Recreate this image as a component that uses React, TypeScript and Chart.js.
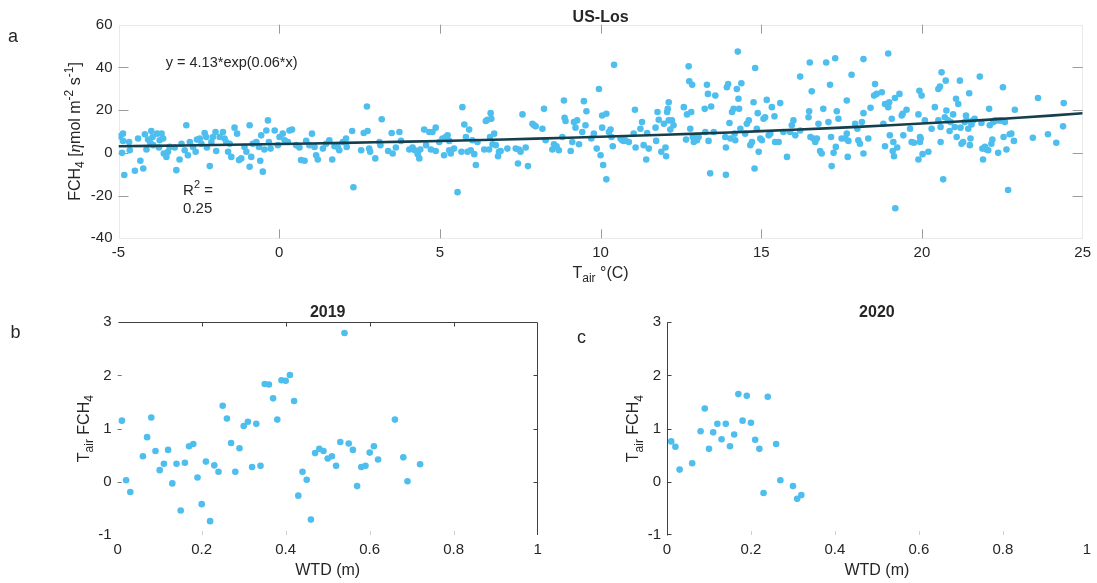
import React, { useEffect, useRef } from "react";
import { Chart, registerables } from "chart.js";

Chart.register(...registerables);

const SANS = "'Liberation Sans', Arial, Helvetica, sans-serif";
const SERIF = "'Liberation Serif', 'DejaVu Serif', serif";
const INK = "#262626";
const DOT = "#4dbeee";
const FIT = "#163f4e";

// Panel a: half-hourly air temperature (°C) paired with methane flux (nmol m-2 s-1)
const airTempFlux: [number, number][] = [
  [-4.86, 9.0], [-4.96, 7.8], [-4.86, 5.6], [-4.67, 5.1], [-4.89, 0.0], [-4.82, -10.4], [-4.49, -8.4],
  [-4.23, -7.3], [-4.32, -3.7], [-4.65, 1.2], [-4.39, 6.7], [-4.18, 8.7], [-4.08, 6.2], [-3.98, 10.2],
  [-3.94, 7.4], [-4.01, 4.7], [-4.13, 1.6], [-3.92, 3.6], [-3.8, 9.0], [-3.66, 9.0], [-3.72, 5.9],
  [-3.61, 6.7], [-3.74, 2.5], [-3.59, -0.3], [-3.46, 0.5], [-3.51, -1.9], [-3.41, 2.8], [-3.2, -8.1],
  [-3.1, -3.1], [-3.25, 2.5], [-3.04, 4.3], [-2.89, 12.9], [-2.94, 1.2], [-2.84, -1.1], [-2.78, 5.1],
  [-2.68, 2.8], [-2.56, 6.2], [-2.47, 6.7], [-2.6, 0.5], [-2.42, 4.3], [-2.32, 9.3], [-2.27, 7.4],
  [-2.25, 2.5], [-2.16, -6.2], [-2.11, 5.1], [-2.06, 7.4], [-1.98, 9.8], [-1.96, 0.9], [-1.85, 7.4],
  [-1.75, 9.8], [-1.7, 6.7], [-1.65, 5.1], [-1.59, 0.5], [-1.54, 4.3], [-1.49, -1.9], [-1.39, 11.8],
  [-1.31, 9.0], [-1.25, -3.4], [-1.18, -2.6], [-1.08, 2.8], [-1.02, 0.5], [-0.92, 12.9], [-0.92, -6.5],
  [-0.87, -1.9], [-0.82, 4.3], [-0.71, 5.1], [-0.63, 2.8], [-0.59, -3.7], [-0.56, 8.2], [-0.51, -8.8],
  [-0.46, 1.6], [-0.4, 10.5], [-0.35, 15.2], [-0.32, 5.1], [-0.27, 2.0], [-0.14, 10.5], [-0.04, 3.6],
  [0.01, 7.4], [0.11, 9.0], [0.17, 5.9], [0.27, 5.1], [0.32, 10.5], [0.4, 10.9], [0.53, 3.6],
  [0.63, 2.5], [0.68, -3.4], [0.79, -3.7], [0.84, 5.6], [0.94, 3.6], [1.02, 9.0], [1.1, 2.8],
  [1.15, -1.1], [1.2, -3.1], [1.36, 2.0], [1.46, 4.3], [1.56, 5.9], [1.65, -3.1], [1.72, 3.1],
  [1.82, 2.8], [1.87, 1.2], [1.98, 5.1], [2.08, 6.7], [2.1, 2.8], [2.27, 10.2], [2.31, -16.1],
  [2.55, 1.2], [2.63, 9.3], [2.73, 21.7], [2.75, 10.2], [2.8, 2.0], [2.83, 0.5], [2.99, -2.6],
  [3.12, 5.1], [3.15, 3.6], [3.19, 15.7], [3.39, 0.9], [3.5, 9.3], [3.53, -0.3], [3.63, 2.5],
  [3.74, 9.8], [3.79, 5.6], [4.05, 1.6], [4.15, 2.5], [4.22, 1.2], [4.31, -0.6], [4.36, -2.6],
  [4.39, 1.6], [4.51, 10.9], [4.57, 3.6], [4.67, 9.8], [4.72, 1.6], [4.77, 9.8], [4.87, 11.8],
  [4.87, 0.9], [4.98, 5.1], [5.08, 6.7], [5.13, -1.1], [5.18, 7.4], [5.24, 8.2], [5.29, 5.6],
  [5.29, 1.2], [5.34, -0.3], [5.44, 2.0], [5.55, -18.4], [5.67, 0.5], [5.7, 21.4], [5.76, 13.3],
  [5.81, 7.4], [5.86, 0.5], [5.91, 10.9], [5.96, 1.2], [6.01, 5.9], [6.07, -0.6], [6.12, -5.7],
  [6.17, 5.1], [6.38, 1.6], [6.43, 14.9], [6.48, 15.5], [6.53, 1.6], [6.56, 7.4], [6.58, 18.6],
  [6.6, 16.0], [6.69, 9.0], [6.64, 4.0], [6.74, 3.6], [6.81, -1.6], [6.84, 0.5], [6.89, 0.9],
  [7.1, 2.0], [7.36, 2.0], [7.43, -5.0], [7.46, 1.6], [7.51, 0.5], [7.57, 18.0], [7.67, 2.5],
  [7.74, -6.2], [7.88, 13.6], [7.93, 12.9], [7.98, 12.4], [8.19, 11.3], [8.24, 20.6], [8.29, 5.9],
  [8.5, 1.6], [8.55, 4.0], [8.63, 3.1], [8.7, 1.2], [8.81, 7.4], [8.86, 24.5], [8.88, 16.4],
  [8.91, 14.9], [9.07, 0.9], [9.12, 5.1], [9.17, 14.4], [9.22, 11.8], [9.27, 15.2], [9.33, 4.0],
  [9.43, 9.8], [9.48, 24.2], [9.53, 12.9], [9.56, 19.5], [9.71, 6.7], [9.79, 9.0], [9.88, 2.0],
  [9.95, 29.9], [10.0, -1.1], [10.05, 17.5], [10.05, 11.8], [10.08, -5.7], [10.18, -12.4], [10.18, 18.3],
  [10.26, 9.8], [10.31, 10.9], [10.34, 7.4], [10.38, 3.1], [10.42, 41.2], [10.62, 6.7], [10.67, 5.9],
  [10.72, 5.6], [10.77, 5.9], [10.88, 5.1], [11.03, 9.0], [11.07, 20.2], [11.09, 2.5], [11.24, 11.3],
  [11.29, 14.4], [11.34, 3.6], [11.42, -3.1], [11.45, 9.3], [11.5, 2.0], [11.71, 11.8], [11.73, 5.6],
  [11.77, 19.1], [11.81, 15.5], [11.89, 0.5], [11.97, 13.6], [12.02, 2.5], [12.04, -1.6], [12.07, 19.1],
  [12.09, 20.6], [12.12, 23.7], [12.12, 15.2], [12.17, 10.9], [12.22, 15.2], [12.27, 12.9], [12.59, 21.4],
  [12.66, 6.2], [12.69, 18.0], [12.74, 40.5], [12.76, 33.5], [12.79, 11.3], [12.82, 19.1], [12.85, 31.9],
  [12.87, 7.4], [12.9, 5.1], [12.95, 6.7], [13.0, 5.9], [13.05, 7.4], [13.24, 20.6], [13.26, 9.8],
  [13.31, 31.9], [13.34, 27.6], [13.36, 5.6], [13.41, -9.6], [13.44, 21.7], [13.52, 9.8], [13.57, 26.8],
  [13.88, 7.4], [13.9, 2.5], [13.9, -10.3], [13.93, 30.7], [13.97, 32.2], [14.01, 14.0], [14.04, 6.7],
  [14.09, 19.1], [14.14, 20.6], [14.17, 9.0], [14.19, 5.9], [14.24, 29.9], [14.27, 47.4], [14.29, 25.3],
  [14.31, 20.6], [14.35, 11.3], [14.38, 32.6], [14.5, 9.0], [14.55, 13.6], [14.61, 15.2], [14.66, 3.6],
  [14.71, 5.1], [14.76, 23.7], [14.79, -7.3], [14.81, 39.7], [14.86, 11.3], [14.89, 18.6], [14.92, 0.5],
  [14.97, 6.7], [15.02, 5.9], [15.07, 16.0], [15.12, 16.7], [15.17, 24.8], [15.23, 8.2], [15.28, 9.0],
  [15.33, 21.4], [15.41, 17.1], [15.43, 5.1], [15.54, 5.1], [15.59, 23.3], [15.69, 9.8], [15.8, -1.9],
  [15.9, 9.8], [15.95, 12.9], [16.0, 15.2], [16.06, 8.2], [16.21, 35.7], [16.21, 10.5], [16.47, 16.7],
  [16.49, 19.5], [16.51, 42.3], [16.53, 7.4], [16.57, 28.8], [16.62, 6.7], [16.68, 5.1], [16.73, 6.7],
  [16.78, 13.6], [16.83, 0.9], [16.88, -0.3], [16.93, 20.6], [17.02, 42.3], [17.09, 14.4], [17.14, 31.9],
  [17.17, 7.4], [17.19, -6.2], [17.25, 0.0], [17.3, 44.3], [17.32, 2.8], [17.35, 19.5], [17.4, 16.0],
  [17.5, 6.7], [17.61, 6.7], [17.66, 24.5], [17.69, -1.9], [17.66, 9.0], [17.71, 5.6], [17.81, 36.6],
  [17.92, 13.6], [17.99, 11.3], [18.02, 5.9], [18.07, 4.3], [18.13, 14.4], [18.18, -0.3], [18.18, 18.6],
  [18.18, 43.9], [18.33, 6.7], [18.4, 21.1], [18.51, 26.8], [18.54, 32.2], [18.59, 27.6], [18.75, 28.4],
  [18.8, 13.6], [18.85, 3.1], [18.85, 22.9], [18.95, 21.4], [18.95, 46.5], [18.98, 23.7], [19.0, 8.2],
  [19.06, 16.0], [19.09, 0.9], [19.11, 5.1], [19.13, -1.6], [19.16, 25.7], [19.17, -25.9], [19.23, 2.5],
  [19.3, 27.6], [19.37, 17.5], [19.4, 18.3], [19.42, 8.2], [19.52, 20.2], [19.63, 11.3], [19.68, 5.1],
  [19.75, 4.7], [19.89, 18.0], [19.92, 29.1], [19.94, 7.4], [19.94, 5.1], [19.96, 6.7], [19.89, -3.1],
  [19.99, 26.8], [20.02, -0.6], [20.09, 15.2], [20.2, 0.5], [20.3, 11.3], [20.4, 21.4], [20.51, 15.2],
  [20.51, 29.9], [20.56, 31.0], [20.58, 5.1], [20.58, 12.1], [20.61, 37.7], [20.66, -12.4], [20.71, 16.7],
  [20.74, 33.8], [20.76, 19.8], [20.81, 15.2], [20.86, 10.2], [20.89, 14.4], [20.97, 18.0], [21.02, 12.1],
  [21.06, 25.3], [21.08, 7.4], [21.13, 22.9], [21.18, 33.8], [21.2, 11.8], [21.23, 4.3], [21.28, 5.1],
  [21.33, 14.4], [21.37, 17.5], [21.39, 15.2], [21.44, 11.3], [21.47, 27.9], [21.49, 3.6], [21.51, 6.7],
  [21.54, 13.3], [21.59, 15.2], [21.64, 16.0], [21.8, 35.7], [21.85, 14.0], [21.88, 2.0], [21.9, -3.1],
  [21.96, 2.8], [22.01, 1.6], [22.06, 1.2], [22.09, 20.6], [22.11, 12.9], [22.16, 4.3], [22.19, 6.2],
  [22.22, 14.4], [22.27, 15.2], [22.32, 15.2], [22.37, 0.0], [22.42, 15.2], [22.47, 15.2], [22.52, 30.7],
  [22.54, 7.4], [22.58, 14.4], [22.63, 1.6], [22.68, -17.4], [22.73, 8.7], [22.78, 9.0], [22.86, 5.6],
  [22.89, 20.2], [23.45, 7.1], [23.61, 25.7], [23.92, 8.7], [24.18, 4.7], [24.39, 12.4], [24.41, 23.3],
];

// Exponential fit reported on panel a: FCH4 = fitA * exp(fitB * Tair)
const fitA = 4.13;
const fitB = 0.06;
const fitR2 = "0.25";
const fitTemps = Array.from({ length: 31 }, (_, i) => -5 + i);

// Panels b and c: water table depth (m) vs Tair/FCH4 ratio
const wtd2019 = [
  0.01, 0.02, 0.03, 0.06, 0.07, 0.08, 0.09, 0.1, 0.11, 0.12, 0.13, 0.14, 0.15, 0.16, 0.17, 0.18,
  0.19, 0.2, 0.21, 0.22, 0.23, 0.24, 0.25, 0.26, 0.27, 0.28, 0.29, 0.3, 0.31, 0.32, 0.33, 0.34,
  0.35, 0.36, 0.37, 0.38, 0.39, 0.4, 0.41, 0.42, 0.43, 0.44, 0.45, 0.46, 0.47, 0.48, 0.49, 0.5,
  0.51, 0.52, 0.53, 0.54, 0.55, 0.56, 0.57, 0.58, 0.59, 0.6, 0.61, 0.62, 0.66, 0.68, 0.69, 0.72,
];
const ratio2019 = [
  1.15, 0.03, -0.19, 0.48, 0.84, 1.21, 0.58, 0.22, 0.34, 0.6, -0.03, 0.34, -0.54, 0.36, 0.67, 0.71,
  0.08, -0.42, 0.38, -0.74, 0.31, 0.19, 1.43, 1.19, 0.73, 0.19, 0.63, 1.05, 1.13, 0.28, 1.09, 0.3,
  1.84, 1.83, 1.57, 1.17, 1.91, 1.9, 2.01, 1.52, -0.26, 0.19, 0.04, -0.71, 0.54, 0.62, 0.58, 0.44,
  0.48, 0.3, 0.75, 2.8, 0.72, 0.6, -0.08, 0.28, 0.3, 0.55, 0.67, 0.42, 1.17, 0.46, 0.01, 0.33,
];
const wtd2020 = [
  0.01, 0.02, 0.03, 0.06, 0.08, 0.09, 0.1, 0.11, 0.12, 0.13, 0.14, 0.15, 0.16, 0.17, 0.18, 0.19,
  0.2, 0.21, 0.22, 0.23, 0.24, 0.26, 0.27, 0.3, 0.31, 0.32,
];
const ratio2020 = [
  0.76, 0.66, 0.23, 0.35, 0.95, 1.38, 0.62, 0.93, 1.09, 0.8, 1.09, 0.67, 0.89, 1.65, 1.15, 1.62,
  1.11, 0.79, 0.62, -0.21, 1.6, 0.71, 0.03, -0.08, -0.32, -0.25,
];

const tempTicksInner = [0, 5, 10, 15, 20];
const fluxTicksInner = [-20, 0, 20, 40];
const wtdTicksInner = [0.2, 0.4, 0.6, 0.8];
const ratioTicksInner = [0, 1, 2];

type Run = { text: string; size: number; shift?: number; family?: string; weight?: string; style?: string };

function runFont(r: Run) {
  return `${r.style ?? "normal"} ${r.weight ?? "normal"} ${r.size}px ${r.family ?? SANS}`;
}

function drawRuns(ctx: CanvasRenderingContext2D, runs: Run[], x: number, y: number, align: "left" | "center") {
  ctx.save();
  ctx.textBaseline = "alphabetic";
  ctx.textAlign = "left";
  ctx.fillStyle = INK;
  let total = 0;
  for (const r of runs) {
    ctx.font = runFont(r);
    total += ctx.measureText(r.text).width;
  }
  let cx = align === "center" ? x - total / 2 : x;
  for (const r of runs) {
    ctx.font = runFont(r);
    ctx.fillText(r.text, cx, y + (r.shift ?? 0));
    cx += ctx.measureText(r.text).width;
  }
  ctx.restore();
}

function drawRotatedRuns(ctx: CanvasRenderingContext2D, runs: Run[], baselineX: number, centerY: number) {
  ctx.save();
  ctx.translate(baselineX, centerY);
  ctx.rotate(-Math.PI / 2);
  drawRuns(ctx, runs, 0, 0, "center");
  ctx.restore();
}

function seg(ctx: CanvasRenderingContext2D, x1: number, y1: number, x2: number, y2: number) {
  ctx.beginPath();
  ctx.moveTo(x1, y1);
  ctx.lineTo(x2, y2);
  ctx.stroke();
}

const snap = (v: number) => Math.round(v) + 0.5;

function axis(min: number, max: number, step: number, size: number, which: "x" | "y") {
  return {
    type: "linear" as const,
    min,
    max,
    grid: { display: false, drawTicks: false },
    border: { display: false },
    ticks: {
      stepSize: step,
      color: INK,
      font: { family: SANS, size: 15 },
      padding: 6,
      maxRotation: 0,
      autoSkip: false,
      callback: (v: number | string) => String(Math.round(Number(v) * 10) / 10),
    },
    afterFit: (s: any) => {
      if (which === "y") s.width = size;
      else s.height = size;
    },
  };
}

function dots(xs: number[], ys: number[]) {
  return {
    type: "scatter" as const,
    data: xs.map((x, i) => ({ x, y: ys[i] })),
    pointRadius: 3.3,
    pointBackgroundColor: DOT,
    pointBorderWidth: 0,
    showLine: false,
    order: 1,
  };
}

const commonOptions = {
  responsive: false,
  animation: false as const,
  devicePixelRatio: 1,
  events: [] as any[],
  plugins: { legend: { display: false }, tooltip: { enabled: false }, title: { display: false } },
};

function fluxChartConfig(): any {
  const decor = {
    id: "fluxDecor",
    beforeDatasetsDraw(chart: any) {
      const { ctx, chartArea: a, scales } = chart;
      const x = scales.x;
      const y = scales.y;
      ctx.save();
      ctx.lineWidth = 1;
      ctx.strokeStyle = "#e9e9e9";
      ctx.strokeRect(snap(a.left), snap(a.top), Math.round(a.right - a.left) - 1, Math.round(a.bottom - a.top) - 1);
      ctx.strokeStyle = "#9b9b9b";
      for (const v of tempTicksInner) {
        const px = snap(x.getPixelForValue(v));
        seg(ctx, px, a.top, px, a.top + 9);
        seg(ctx, px, a.bottom - 9, px, a.bottom);
      }
      for (const v of fluxTicksInner) {
        const py = snap(y.getPixelForValue(v));
        seg(ctx, a.left, py, a.left + 10, py);
        seg(ctx, a.right - 10, py, a.right, py);
      }
      ctx.restore();
    },
    afterDraw(chart: any) {
      const { ctx, chartArea: a, scales } = chart;
      const x = scales.x;
      const y = scales.y;
      const mid = (a.left + a.right) / 2;
      drawRuns(ctx, [{ text: "a", size: 18 }], 8, 41.5, "left");
      drawRuns(ctx, [{ text: "US-Los", size: 16, weight: "bold" }], mid, 21.5, "center");
      drawRuns(
        ctx,
        [
          { text: "T", size: 16 },
          { text: "air", size: 12, shift: 4.5 },
          { text: " \u00B0(C)", size: 16 },
        ],
        mid,
        277.5,
        "center"
      );
      drawRotatedRuns(
        ctx,
        [
          { text: "FCH", size: 16 },
          { text: "4", size: 12, shift: 4 },
          { text: " [", size: 16 },
          { text: "\u03B7", size: 17, style: "italic", family: SERIF },
          { text: "mol m", size: 16 },
          { text: "-2", size: 12, shift: -7 },
          { text: " s", size: 16 },
          { text: "-1", size: 12, shift: -7 },
          { text: "]", size: 16 },
        ],
        80,
        (a.top + a.bottom) / 2
      );
      drawRuns(
        ctx,
        [{ text: `y = ${fitA}*exp(${fitB}*x)`, size: 14.5 }],
        x.getPixelForValue(-3.53),
        y.getPixelForValue(40),
        "left"
      );
      drawRuns(
        ctx,
        [
          { text: "R", size: 15 },
          { text: "2", size: 11, shift: -7 },
          { text: " =", size: 15 },
        ],
        x.getPixelForValue(-2.99),
        y.getPixelForValue(-19.7),
        "left"
      );
      drawRuns(ctx, [{ text: fitR2, size: 15 }], x.getPixelForValue(-2.99), y.getPixelForValue(-28.3), "left");
    },
  };

  return {
    type: "scatter",
    data: {
      datasets: [
        {
          type: "line",
          data: fitTemps.map((t) => ({ x: t, y: fitA * Math.exp(fitB * t) })),
          borderColor: FIT,
          borderWidth: 2.6,
          pointRadius: 0,
          fill: false,
          tension: 0,
          order: 0,
        },
        dots(
          airTempFlux.map((p) => p[0]),
          airTempFlux.map((p) => p[1])
        ),
      ],
    },
    options: {
      ...commonOptions,
      layout: { padding: { left: 0, top: 24.7, right: 12, bottom: 11.7 } },
      scales: {
        x: axis(-5, 25, 5, 40, "x"),
        y: axis(-40, 60, 20, 118.5, "y"),
      },
    },
    plugins: [decor],
  };
}

function wtdChartConfig(
  xs: number[],
  ys: number[],
  title: string,
  letter: string,
  letterPos: [number, number],
  yTitleX: number,
  plotLeft: number,
  padRight: number,
  frame: "boxRight" | "leftOnly"
): any {
  const decor = {
    id: "wtdDecor" + title,
    beforeDatasetsDraw(chart: any) {
      const { ctx, chartArea: a, scales } = chart;
      const x = scales.x;
      const y = scales.y;
      ctx.save();
      ctx.lineWidth = 1;
      const L = snap(a.left);
      const R = snap(a.right) - 1;
      const T = snap(a.top);
      const B = snap(a.bottom) - 1;
      // faint ticks along the bottom edge
      ctx.strokeStyle = "#cfcfcf";
      for (const v of wtdTicksInner) {
        const px = snap(x.getPixelForValue(v));
        seg(ctx, px, a.bottom - 4, px, a.bottom);
      }
      if (frame === "boxRight") {
        ctx.strokeStyle = "#404040";
        seg(ctx, L, T, R, T);
        seg(ctx, R, T, R, a.bottom);
        for (const v of wtdTicksInner) {
          const px = snap(x.getPixelForValue(v));
          seg(ctx, px, T, px, T + 4);
        }
        for (const v of ratioTicksInner) {
          const py = snap(y.getPixelForValue(v));
          seg(ctx, R - 4, py, R, py);
        }
        ctx.strokeStyle = "#777";
        for (const v of ratioTicksInner) {
          const py = snap(y.getPixelForValue(v));
          seg(ctx, a.left, py, a.left + 4, py);
        }
      } else {
        ctx.strokeStyle = "#404040";
        seg(ctx, L, a.top, L, B + 1);
        for (const v of [-1, ...ratioTicksInner, 3]) {
          const py = snap(Math.min(y.getPixelForValue(v), a.bottom - 1));
          seg(ctx, L, py, L + 4, py);
        }
      }
      ctx.restore();
    },
    afterDraw(chart: any) {
      const { ctx, chartArea: a } = chart;
      const mid = (a.left + a.right) / 2;
      drawRuns(ctx, [{ text: letter, size: 18 }], letterPos[0], letterPos[1], "left");
      drawRuns(ctx, [{ text: title, size: 16, weight: "bold" }], mid, 27, "center");
      drawRuns(ctx, [{ text: "WTD (m)", size: 16 }], mid, 285, "center");
      drawRotatedRuns(
        ctx,
        [
          { text: "T", size: 16 },
          { text: "air", size: 12, shift: 4.5 },
          { text: " FCH", size: 16 },
          { text: "4", size: 12, shift: 4.5 },
        ],
        yTitleX,
        (a.top + a.bottom) / 2
      );
    },
  };

  return {
    type: "scatter",
    data: { datasets: [dots(xs, ys)] },
    options: {
      ...commonOptions,
      layout: { padding: { left: 0, top: 32.3, right: padRight, bottom: 8 } },
      scales: {
        x: axis(0, 1, 0.2, 40, "x"),
        y: axis(-1, 3, 1, plotLeft, "y"),
      },
    },
    plugins: [decor],
  };
}

export default function App() {
  const fluxRef = useRef<HTMLCanvasElement>(null);
  const y2019Ref = useRef<HTMLCanvasElement>(null);
  const y2020Ref = useRef<HTMLCanvasElement>(null);

  useEffect(() => {
    const charts: Chart[] = [];
    if (fluxRef.current) charts.push(new Chart(fluxRef.current, fluxChartConfig()));
    if (y2019Ref.current)
      charts.push(
        new Chart(
          y2019Ref.current,
          wtdChartConfig(wtd2019, ratio2019, "2019", "b", [10.5, 48], 88.5, 117.7, 22.3, "boxRight")
        )
      );
    if (y2020Ref.current)
      charts.push(
        new Chart(
          y2020Ref.current,
          wtdChartConfig(wtd2020, ratio2020, "2020", "c", [17, 53], 78, 107, 10, "leftOnly")
        )
      );
    return () => charts.forEach((c) => c.destroy());
  }, []);

  return (
    <div
      style={{
        position: "absolute",
        left: 0,
        top: 0,
        width: 1097,
        height: 583,
        background: "#ffffff",
        overflow: "hidden",
      }}
    >
      <canvas
        ref={fluxRef}
        width={1097}
        height={290}
        style={{ position: "absolute", left: 0, top: 0, width: 1097, height: 290 }}
      />
      <canvas
        ref={y2019Ref}
        width={560}
        height={293}
        style={{ position: "absolute", left: 0, top: 290, width: 560, height: 293 }}
      />
      <canvas
        ref={y2020Ref}
        width={537}
        height={293}
        style={{ position: "absolute", left: 560, top: 290, width: 537, height: 293 }}
      />
    </div>
  );
}
